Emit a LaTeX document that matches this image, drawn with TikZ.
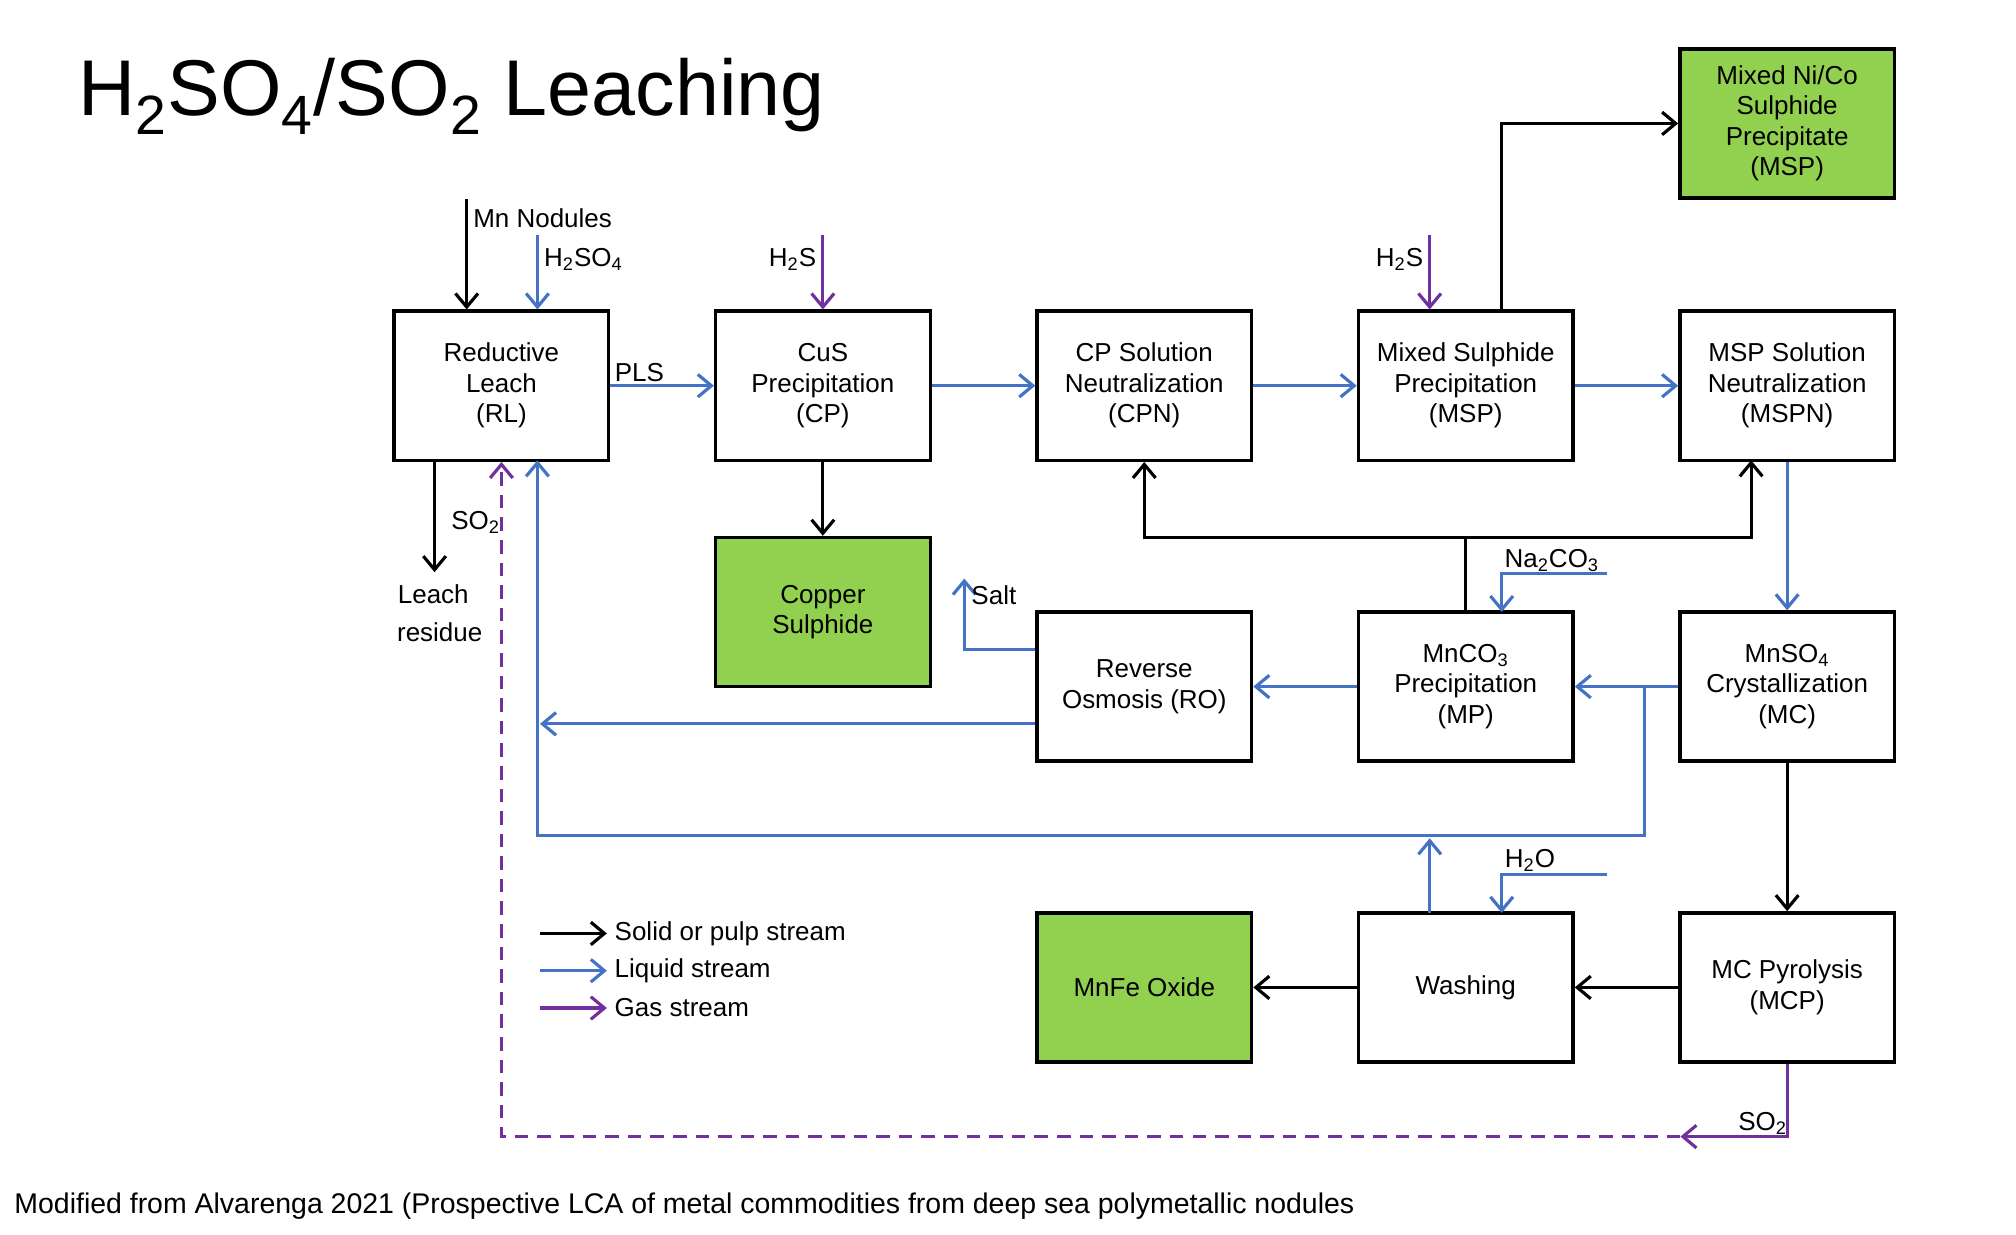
\documentclass[tikz,border=0pt]{standalone}
\usepackage{fontspec}
\setmainfont{Liberation Sans}
\usetikzlibrary{arrows.meta,calc}
\definecolor{leafgreen}{HTML}{92D050}
\definecolor{liqblue}{HTML}{4472C4}
\definecolor{gaspurple}{HTML}{7030A0}
\newcommand{\sbs}[1]{\textsubscript{#1}}
\tikzset{
  unit/.style={draw, line width=1.5pt, minimum width=3.34cm, minimum height=2.32cm, align=center, font=\fontsize{11.5}{13.5}\selectfont},
  product/.style={unit, fill=leafgreen},
  solid/.style={black, line width=1.4pt, -{Straight Barb[length=6pt,width=10pt]}},
  liquid/.style={liqblue, line width=1.4pt, -{Straight Barb[length=6pt,width=10pt]}},
  gas/.style={gaspurple, line width=1.4pt, -{Straight Barb[length=6pt,width=10pt]}},
  lbl/.style={font=\fontsize{11.5}{13.5}\selectfont, inner sep=1pt}
}
\begin{document}
\begin{tikzpicture}[x=0.02cm, y=-0.02cm]
  \useasboundingbox[fill=white] (0,0) rectangle (1568,960);
  \node[anchor=west, font=\fontsize{35}{38}\selectfont] (title) at (55,75) {H\sbs{2}SO\sbs{4}/SO\sbs{2} Leaching};
  % process units
  \node[unit] (rl) at (390,300) {Reductive\\Leach\\(RL)};
  \node[unit] (cp) at (640,300) {CuS\\Precipitation\\(CP)};
  \node[unit] (cpn) at (890,300) {CP Solution\\Neutralization\\(CPN)};
  \node[unit] (msp) at (1140,300) {Mixed Sulphide\\Precipitation\\(MSP)};
  \node[unit] (mspn) at (1390,300) {MSP Solution\\Neutralization\\(MSPN)};
  \node[product] (nico) at (1390,96) {Mixed Ni/Co\\Sulphide\\Precipitate\\(MSP)};
  \node[product] (cus) at (640,476) {Copper\\Sulphide};
  \node[unit] (ro) at (890,534) {Reverse\\Osmosis (RO)};
  \node[unit] (mp) at (1140,534) {MnCO\sbs{3}\\Precipitation\\(MP)};
  \node[unit] (mc) at (1390,534) {MnSO\sbs{4}\\Crystallization\\(MC)};
  \node[product] (mnfe) at (890,768) {MnFe Oxide};
  \node[unit] (wash) at (1140,768) {Washing};
  \node[unit] (mcp) at (1390,768) {MC Pyrolysis\\(MCP)};
  % free ends
  \coordinate (mnin) at (363,155);
  \coordinate (acidin) at (418,183);
  \coordinate (hsa) at (640,183);
  \coordinate (hsb) at (1112,183);
  \coordinate (resid) at (338,445);
  \coordinate (salt) at (750,450);
  \coordinate (naco) at (1250,446);
  \coordinate (water) at (1250,680);
  \coordinate (sotap) at (1307,884);
  % main line
  \draw[solid] (mnin) -- (mnin |- rl.north);
  \node[lbl, anchor=west] (mnlbl) at (366,170) {Mn Nodules};
  \draw[liquid] (acidin) -- (acidin |- rl.north);
  \node[lbl, anchor=west] (acidlbl) at (421,202) {H\sbs{2}SO\sbs{4}};
  \draw[liquid] (rl) -- node[lbl, above, pos=0.28, black] {PLS} (cp);
  \draw[gas] (hsa) -- (cp.north);
  \node[lbl, anchor=east] (hsalbl) at (637,202) {H\sbs{2}S};
  \draw[solid] (cp) -- (cus);
  \draw[liquid] (cp) -- (cpn);
  \draw[liquid] (cpn) -- (msp);
  \draw[gas] (hsb) -- (hsb |- msp.north);
  \node[lbl, anchor=east] (hsblbl) at (1109,202) {H\sbs{2}S};
  \draw[liquid] (msp) -- (mspn);
  \draw[solid] (1168,242) |- (nico.west);
  \draw[solid] (338,358) -- (resid);
  \node[lbl] (so2a) at (370,406) {SO\sbs{2}};
  \node[lbl] (leach) at (337,462) {Leach};
  \node[lbl] (residue) at (342,492) {residue};
  % manganese circuit
  \draw[liquid] (mspn) -- (mc);
  \draw[black, line width=1.4pt] (mp.north) -- (1140,418);
  \draw[solid] (1140,418) -| (cpn.south);
  \draw[solid] (1140,418) -| (1362,358);
  \draw[liquid] (naco) -| (1168,476);
  \node[lbl] (nacolbl) at (1207,436) {Na\sbs{2}CO\sbs{3}};
  \draw[liquid] (mc) -- (mp);
  \draw[liquid] (mp) -- (ro);
  \draw[liquid] (1279,534) -- (1279,650) -| (418,358);
  \draw[liquid] (ro.west |- 0,563) -- (420,563);
  \draw[liquid] (ro.west |- 0,505) -| (salt);
  \node[lbl] (saltlbl) at (773,463) {Salt};
  \draw[solid] (mc) -- (mcp);
  \draw[solid] (mcp) -- (wash);
  \draw[solid] (wash) -- (mnfe);
  \draw[liquid] (1112,710) -- (1112,652);
  \draw[liquid] (water) -| (1168,710);
  \node[lbl] (waterlbl) at (1190,669) {H\sbs{2}O};
  \draw[gas] (mcp.south) |- (sotap);
  \node[lbl] (so2b) at (1371,874) {SO\sbs{2}};
  \draw[gas, dash pattern=on 6pt off 4pt] (sotap) -| (rl.south);
  % legend
  \foreach \y/\sty/\txt [count=\i] in {726/solid/Solid or pulp stream, 755/liquid/Liquid stream, 784/gas/Gas stream}{
    \coordinate (lega\i) at (420,\y);
    \coordinate (legb\i) at (472,\y);
    \draw[\sty] (lega\i) -- (legb\i);
    \node[lbl, anchor=west] (legt\i) at (476,\y) {\txt};
  }
  \node[anchor=west, font=\fontsize{12.6}{15}\selectfont] (source) at (5,938) {Modified from Alvarenga 2021 (Prospective LCA of metal commodities from deep sea polymetallic nodules};
\end{tikzpicture}
\end{document}
